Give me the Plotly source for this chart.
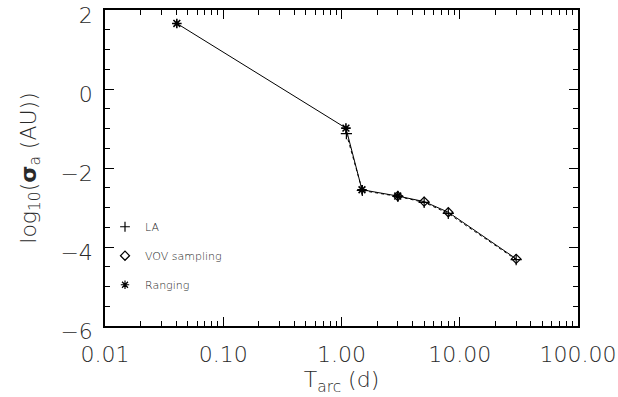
import plotly.graph_objects as go

# Data
rng_x = [0.0405, 1.09, 1.49, 2.99]
rng_y = [1.66, -0.99, -2.55, -2.71]
vov_x = [2.99, 5.0, 8.0, 30.0]
vov_y = [-2.71, -2.85, -3.12, -4.30]
la_x = [1.1, 1.5, 3.0, 5.0, 8.0, 30.0]
la_y = [-1.13, -2.57, -2.72, -2.87, -3.15, -4.32]

x_tickvals = [0.01, 0.1, 1, 10, 100]
x_ticktext = ["0.01", "0.10", "1.00", "10.00", "100.00"]
y_tickvals = [-6, -4, -2, 0, 2]
y_ticktext = ["\u22126", "\u22124", "\u22122", "0", "2"]
legend_names = ["LA", "VOV sampling", "Ranging"]

FONT = "DejaVu Sans"
TC = "#2a2a2a"

fig = go.Figure()
fig.add_trace(go.Scatter(x=la_x, y=la_y, mode="lines+markers",
                         line=dict(color="black", width=1, dash="dot"),
                         marker=dict(symbol="cross-thin-open", size=8, line=dict(color="black", width=1.2)),
                         showlegend=False))
fig.add_trace(go.Scatter(x=vov_x, y=vov_y, mode="lines+markers",
                         line=dict(color="black", width=1),
                         marker=dict(symbol="diamond-open", size=7, line=dict(color="black", width=1.2)),
                         showlegend=False))
fig.add_trace(go.Scatter(x=rng_x, y=rng_y, mode="lines+markers",
                         line=dict(color="black", width=1),
                         marker=dict(symbol="asterisk-open", size=8, line=dict(color="black", width=1.6)),
                         showlegend=False))

# legend entries (markers only)
syms = ["cross-thin-open", "diamond-open", "asterisk-open"]
for i, (name, s) in enumerate(zip(legend_names, syms)):
    fig.add_trace(go.Scatter(x=[None], y=[None], mode="markers", name=name, legendgroup=str(i),
                             marker=dict(symbol=s, size=7, color="black", line=dict(color="black", width=1.2))))

minor_x = [m * 10.0**e for e in range(-2, 2) for m in range(2, 10)]

fig.update_layout(
    width=618, height=397,
    margin=dict(l=105, r=40, t=10, b=71, autoexpand=False),
    plot_bgcolor="white", paper_bgcolor="white",
    font=dict(family=FONT, color=TC, weight=200),
    legend=dict(x=0.0, y=0.36, xanchor="left", yanchor="top",
                font=dict(size=11, family=FONT, color=TC, weight=200),
                bgcolor="rgba(0,0,0,0)", tracegroupgap=10, itemsizing="trace"),
    xaxis=dict(type="log", range=[-2, 2], tickmode="array", tickvals=x_tickvals, ticktext=x_ticktext,
               ticks="inside", ticklen=9, tickwidth=1, tickcolor="black", ticklabelstandoff=8,
               ticklabeloverflow="allow",
               showline=True, linecolor="black", linewidth=1.5, mirror="ticks",
               showgrid=False, zeroline=False, automargin=False,
               tickfont=dict(size=22, family=FONT, color=TC, weight=200),
               minor=dict(tickmode="array", tickvals=minor_x, ticks="inside", ticklen=5, tickcolor="black", showgrid=False),
               title=dict(text="T<sub>arc</sub> (d)", font=dict(size=22, family=FONT, color=TC, weight=200), standoff=2)),
    yaxis=dict(range=[-6, 2], tickmode="array", tickvals=y_tickvals, ticktext=y_ticktext,
               ticks="inside", ticklen=9, tickwidth=1, tickcolor="black", ticklabelstandoff=6,
               ticklabelshift=5, ticklabeloverflow="allow",
               showline=True, linecolor="black", linewidth=1.5, mirror="ticks",
               showgrid=False, zeroline=False, automargin=False,
               tickfont=dict(size=22, family=FONT, color=TC, weight=200),
               minor=dict(dtick=0.5, tick0=0, ticks="inside", ticklen=5, tickcolor="black", showgrid=False),
               title=dict(text="log<sub>10</sub>(<b>\u03c3</b><sub>a</sub> (AU))", font=dict(size=22, family=FONT, color=TC, weight=200), standoff=18)),
)

fig.write_html("out.html", config={"displayModeBar": False},
               post_script="document.body.style.margin='0';")
